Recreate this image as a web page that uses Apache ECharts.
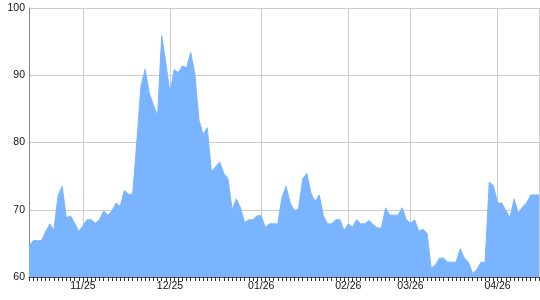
<!DOCTYPE html>
<html>
<head>
<meta charset="utf-8">
<script src="https://cdn.jsdelivr.net/npm/echarts@6/dist/echarts.min.js"></script>
<style>html,body{margin:0;padding:0;background:#fff}#c{width:540px;height:300px}</style>
</head>
<body>
<div id="c"></div>
<script>
const monthLabels = ['10/25','11/25','12/25','01/26','02/26','03/26','04/26'];
const monthCounts = [13,21,22,21,15,21,11];
const yTicks = [60,70,80,90,100];
const values = [
  64.6,65.4,65.4,65.4,66.7,67.9,67.0,72.1,73.5,68.8,69.1,68.0,66.8,
  67.6,68.5,68.5,68.0,68.5,69.8,69.2,69.8,71.0,70.5,72.9,72.3,72.3,80.0,88.4,90.9,87.4,85.6,83.9,95.9,91.8,
  87.4,90.8,90.4,91.4,91.1,93.4,90.2,83.3,81.2,82.2,75.7,76.4,77.1,75.4,74.6,70.0,71.6,70.3,68.1,68.5,68.5,69.1,
  69.1,67.4,67.9,67.9,67.9,71.8,73.5,71.0,69.9,70.1,74.6,75.4,72.5,71.2,72.2,69.1,67.9,67.9,68.5,68.5,66.9,
  67.9,67.4,68.5,67.9,67.9,68.4,67.8,67.3,67.3,70.3,69.2,69.2,69.2,70.3,68.5,
  68.0,68.5,66.8,67.1,66.5,61.3,61.8,62.8,62.8,62.2,62.2,62.2,64.2,62.8,62.2,60.5,61.1,62.2,62.2,74.1,73.6,
  71.0,71.0,69.9,68.8,71.6,69.5,70.4,71.0,72.2,72.2,72.2
];

const categories = [];
monthLabels.forEach((m, mi) => {
  for (let k = 1; k <= monthCounts[mi]; k++) categories.push(m + '#' + k);
});
const isMonthStart = (idx, val) => idx > 0 && String(val).endsWith('#1');

const chart = echarts.init(document.getElementById('c'), null, {renderer: 'canvas'});
chart.setOption({
  animation: false,
  grid: {left: 29, right: 1, top: 8, bottom: 23, containLabel: false},
  xAxis: {
    type: 'category',
    data: categories,
    boundaryGap: false,
    axisLine: {show: true, lineStyle: {color: '#555', width: 1}},
    axisTick: {show: true, interval: 0, length: 4, lineStyle: {color: '#333', width: 1}},
    axisLabel: {
      interval: isMonthStart,
      formatter: v => String(v).split('#')[0],
      color: '#111', fontSize: 10.5, fontFamily: 'Liberation Sans, Arial, sans-serif', margin: 4
    },
    splitLine: {
      show: true,
      interval: (idx, val) => isMonthStart(idx, val) || idx === categories.length - 1,
      lineStyle: {color: '#cccccc', width: 1}
    }
  },
  yAxis: {
    type: 'value',
    min: yTicks[0], max: yTicks[yTicks.length - 1], interval: 10,
    axisLine: {show: true, lineStyle: {color: '#888', width: 1}},
    axisTick: {show: false},
    axisLabel: {color: '#111', fontSize: 10.5, fontFamily: 'Liberation Sans, Arial, sans-serif', margin: 4},
    splitLine: {show: true, lineStyle: {color: '#cccccc', width: 1}}
  },
  series: [{
    type: 'line',
    data: values,
    symbol: 'none',
    smooth: false,
    lineStyle: {color: '#7ab4fe', width: 1},
    areaStyle: {color: '#7ab4fe', opacity: 1, origin: 'start'},
    z: 2
  }]
});
</script>
</body>
</html>
